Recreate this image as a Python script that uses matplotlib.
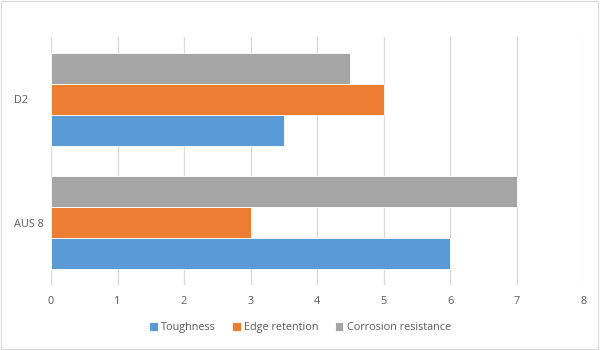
import matplotlib.pyplot as plt
import numpy as np

# data
categories = ['AUS 8', 'D2']
series_names = ['Toughness', 'Edge retention', 'Corrosion resistance']
toughness = [6, 3.5]
edge_retention = [3, 5]
corrosion = [7, 4.5]
colors = ['#5B9BD5', '#ED7D31', '#A5A5A5']

plt.rcParams['font.family'] = ['Open Sans', 'DejaVu Sans']

fig = plt.figure(figsize=(6, 3.5), dpi=100)
ax = fig.add_axes([0.085, 0.186, 0.887, 0.708])

y = np.arange(len(categories))
h = 0.25
for i, (vals, name) in enumerate(zip([toughness, edge_retention, corrosion], series_names)):
  ax.barh(y + (i - 1) * h, vals, height=h, color=colors[i], label=name,
          edgecolor='white', linewidth=0.6, zorder=3)

ax.set_xlim(0, 8)
ax.set_ylim(-0.5, 1.5)
ax.set_xticks(range(9))
ax.set_yticks(y)
ax.set_yticklabels(categories, ha='left')
ax.grid(axis='x', color='#D9D9D9', linewidth=0.9, zorder=0)
ax.tick_params(length=0, labelsize=7.8, labelcolor='#595959', pad=8)
ax.tick_params(axis='y', pad=27)
for s in ax.spines.values():
  s.set_visible(False)

fig.legend(loc='lower center', ncol=3, bbox_to_anchor=(0.5, 0.02), frameon=False,
           fontsize=7.8, labelcolor='#595959', handlelength=0.8, handleheight=0.8,
           handletextpad=0.3, columnspacing=1.5)

# light chart border
fig.patches.append(plt.Rectangle((0.002, 0.003), 0.995, 0.993, transform=fig.transFigure,
                                 fill=False, edgecolor='#D9D9D9', linewidth=0.8))

fig.savefig('out.png', dpi=100)
